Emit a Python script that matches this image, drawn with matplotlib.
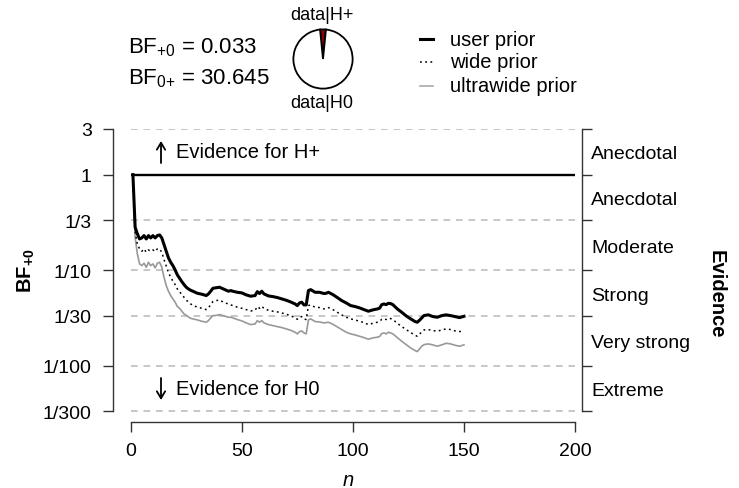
import numpy as np
import matplotlib
matplotlib.use('Agg')
import matplotlib.pyplot as plt
from matplotlib.lines import Line2D
from matplotlib import ticker

plt.rcParams['font.family'] = ['Liberation Sans', 'DejaVu Sans']
plt.rcParams['mathtext.fontset'] = 'custom'
plt.rcParams['mathtext.rm'] = 'Liberation Sans'
plt.rcParams['mathtext.it'] = 'Liberation Sans:italic'
plt.rcParams['mathtext.bf'] = 'Liberation Sans:bold'

# ---------------- data ----------------
n = [1, 2, 3, 4, 5, 6, 7, 8, 9, 10, 11, 12, 13, 14, 15, 16, 17, 18, 19, 20,
     21, 22, 23, 24, 25, 26, 27, 28, 30, 32, 34, 35, 36, 37, 38, 40, 42, 44,
     45, 46, 48, 50, 52, 54, 56, 57, 58, 59, 60, 62, 64, 66, 68, 70, 72, 74,
     75, 76, 77, 78, 79, 80, 81, 83, 85, 87, 88, 89, 91, 93, 95, 97,
     99, 101, 103, 105, 107, 109, 111, 112, 113, 114, 115, 116, 117, 118,
     120, 122, 124, 126, 128, 129, 130, 131, 132, 134, 136, 138, 140, 142,
     144, 146, 148, 150]

log10_bf_user = [0.0, -0.551, -0.620, -0.673, -0.662, -0.638, -0.673, -0.638, -0.662, -0.638,
                 -0.662, -0.638, -0.631, -0.662, -0.732, -0.802, -0.871, -0.917, -0.952, -0.997,
                 -1.049, -1.084, -1.119, -1.150, -1.178, -1.196, -1.210, -1.220, -1.241, -1.251,
                 -1.265, -1.248, -1.220, -1.189, -1.185, -1.178, -1.199, -1.220,
                 -1.213, -1.220, -1.231, -1.237, -1.258, -1.272, -1.265, -1.224, -1.244, -1.220,
                 -1.248, -1.269, -1.276, -1.286, -1.300, -1.314, -1.332, -1.353,
                 -1.370, -1.342, -1.335, -1.363, -1.363, -1.213, -1.203, -1.231, -1.231, -1.244,
                 -1.241, -1.231, -1.255, -1.286, -1.318, -1.342,
                 -1.370, -1.380, -1.394, -1.412, -1.429, -1.415, -1.405, -1.398, -1.360, -1.353,
                 -1.360, -1.346, -1.349, -1.360,
                 -1.405, -1.440, -1.478, -1.509, -1.537, -1.544, -1.523, -1.499, -1.474, -1.467,
                 -1.485, -1.492, -1.475, -1.467, -1.475, -1.485, -1.496, -1.482]

log10_bf_wide = [0.0, -0.603, -0.725, -0.777, -0.802, -0.777, -0.812, -0.788, -0.802, -0.788,
                 -0.805, -0.777, -0.777, -0.812, -0.889, -0.955, -1.025, -1.074, -1.115, -1.150,
                 -1.196, -1.224, -1.255, -1.283, -1.311, -1.335, -1.353, -1.367, -1.387, -1.398,
                 -1.412, -1.394, -1.360, -1.328, -1.321, -1.311, -1.339, -1.353,
                 -1.363, -1.370, -1.387, -1.398, -1.412, -1.426, -1.419, -1.380, -1.398, -1.377,
                 -1.401, -1.419, -1.429, -1.436, -1.447, -1.461, -1.475, -1.499,
                 -1.513, -1.492, -1.485, -1.509, -1.516, -1.370, -1.363, -1.387, -1.391, -1.405,
                 -1.401, -1.391, -1.412, -1.440, -1.468, -1.492,
                 -1.509, -1.520, -1.534, -1.548, -1.569, -1.555, -1.544, -1.537, -1.513, -1.509,
                 -1.516, -1.502, -1.506, -1.516,
                 -1.555, -1.590, -1.621, -1.652, -1.680, -1.691, -1.670, -1.645, -1.625, -1.621,
                 -1.632, -1.638, -1.625, -1.614, -1.621, -1.635, -1.642, -1.632]

log10_bf_ultrawide = [0.0, -0.655, -0.830, -0.934, -0.952, -0.927, -0.969, -0.917, -0.952, -0.934,
                      -0.976, -0.927, -0.917, -0.969, -1.074, -1.161, -1.220, -1.265, -1.300, -1.335,
                      -1.380, -1.398, -1.429, -1.457, -1.471, -1.489, -1.503, -1.509, -1.520, -1.534,
                      -1.544, -1.527, -1.499, -1.475, -1.475, -1.464, -1.478, -1.492,
                      -1.492, -1.499, -1.516, -1.530, -1.551, -1.569, -1.562, -1.527, -1.544, -1.527,
                      -1.551, -1.569, -1.579, -1.590, -1.600, -1.614, -1.628, -1.649,
                      -1.666, -1.642, -1.635, -1.656, -1.666, -1.520, -1.509, -1.537, -1.541, -1.551,
                      -1.548, -1.544, -1.565, -1.593, -1.621, -1.649,
                      -1.666, -1.677, -1.691, -1.705, -1.722, -1.708, -1.701, -1.694, -1.663, -1.656,
                      -1.666, -1.649, -1.656, -1.666,
                      -1.705, -1.743, -1.778, -1.813, -1.841, -1.851, -1.823, -1.795, -1.778, -1.771,
                      -1.781, -1.795, -1.781, -1.764, -1.771, -1.785, -1.795, -1.781]

bf_levels = [3, 1, 1/3, 1/10, 1/30, 1/100, 1/300]
level_labels = ['3', '1', '1/3', '1/10', '1/30', '1/100', '1/300']
evidence_labels = ['Anecdotal', 'Anecdotal', 'Moderate', 'Strong', 'Very strong', 'Extreme']
xticks = [0, 50, 100, 150, 200]
bf_plus0 = 0.033
bf_0plus = 30.645
legend_labels = ['user prior', 'wide prior', 'ultrawide prior']

# ---------------- figure ----------------
W, H = 739, 489
fig = plt.figure(figsize=(W / 100, H / 100), dpi=100)


def fx(x):
    return x / W


def fy(y):
    return 1 - y / H


AX_L, AX_R, AX_T, AX_B = 113.3, 581.7, 130.0, 423.0
ax = fig.add_axes([fx(AX_L), fy(AX_B), (AX_R - AX_L) / W, (AX_B - AX_T) / H])
ax.set_yscale('log')
ax.set_xlim(-7.83, 203.0)
ylims = (10 ** -2.5877, 3.0)
ax.set_ylim(*ylims)

spine_col = '#333333'
dash_col = '#bdbdbd'

# reference lines
others = [v for v in bf_levels if v != 1]
ax.hlines(others, 0, 200, colors=dash_col, linestyles=[(0, (4, 3.5))], lw=1.2, zorder=1)
ax.hlines([1], 0, 200, colors='black', lw=1.7, zorder=2)

nn = np.array(n)
ax.plot(nn, 10 ** np.array(log10_bf_ultrawide), color='#999999', lw=1.2, zorder=3)
ax.plot(nn, 10 ** np.array(log10_bf_wide), color='black', lw=1.1,
        ls=(0, (1.2, 2.2)), zorder=4)
ax.plot(nn, 10 ** np.array(log10_bf_user), color='black', lw=2.2,
        solid_joinstyle='round', zorder=5)

for s in ['top', 'right']:
    ax.spines[s].set_visible(False)
ax.spines['left'].set_bounds(1 / 300, 3)
ax.spines['bottom'].set_bounds(0, 200)
for s in ['left', 'bottom']:
    ax.spines[s].set_color(spine_col)
    ax.spines[s].set_linewidth(1.0)

ax.set_yticks(bf_levels)
ax.set_yticklabels(level_labels)
ax.yaxis.set_minor_locator(ticker.NullLocator())
ax.set_xticks(xticks)
ax.set_xticklabels([str(v) for v in xticks])
ax.tick_params(axis='y', length=7.5, width=1.0, color=spine_col, pad=8, labelsize=14)
ax.tick_params(axis='x', length=7.5, width=1.0, color=spine_col, pad=7, labelsize=14)

# right evidence axis
ax2 = ax.twinx()
ax2.set_yscale('log')
ax2.set_ylim(*ylims)
for s in ['top', 'left', 'bottom']:
    ax2.spines[s].set_visible(False)
ax2.spines['right'].set_bounds(1 / 300, 3)
ax2.spines['right'].set_color(spine_col)
ax2.spines['right'].set_linewidth(1.0)
ax2.set_yticks(bf_levels)
ax2.set_yticklabels([''] * len(bf_levels))
mids = [np.sqrt(bf_levels[i] * bf_levels[i + 1]) for i in range(len(bf_levels) - 1)]
ax2.set_yticks(mids, minor=True)
ax2.set_yticklabels(evidence_labels, minor=True)
ax2.tick_params(axis='y', which='major', length=7.5, width=1.0, color=spine_col)
ax2.tick_params(axis='y', which='minor', length=0, pad=7, labelsize=14)

# axis titles
fig.text(fx(716), fy(294), 'Evidence', rotation=270, fontsize=14.5, fontweight='bold',
         ha='center', va='center')
fig.text(fx(26), fy(271), r'$\mathbf{BF_{{+}0}}$', rotation=90, fontsize=14.5,
         ha='center', va='center')
fig.text(fx(348), fy(481), 'n', style='italic', fontsize=14.5, ha='center', va='center')

# evidence direction annotations
fig.text(fx(176), fy(153), 'Evidence for H+', fontsize=14.5, ha='left', va='center')
fig.text(fx(176), fy(390), 'Evidence for H0', fontsize=14.5, ha='left', va='center')
arrow_kw = dict(arrowstyle='->,head_length=0.5,head_width=0.3', lw=1.3, color='black',
                shrinkA=0, shrinkB=0, mutation_scale=10)
ax.annotate('', xy=(fx(161), fy(142)), xytext=(fx(161), fy(164)),
            xycoords='figure fraction', textcoords='figure fraction', arrowprops=arrow_kw)
ax.annotate('', xy=(fx(161), fy(401)), xytext=(fx(161), fy(379)),
            xycoords='figure fraction', textcoords='figure fraction', arrowprops=arrow_kw)

# BF texts
fig.text(fx(128), fy(53.3), f'BF$_{{{{+}}0}}$ = {bf_plus0:.3f}', fontsize=16, ha='left', va='baseline')
fig.text(fx(128), fy(84.0), f'BF$_{{0{{+}}}}$ = {bf_0plus:.3f}', fontsize=16, ha='left', va='baseline')

# pie
pax = fig.add_axes([fx(292.5), fy(90.5), 61 / W, 61 / H])
frac = bf_plus0 / (1 + bf_plus0)
ang = 360 * frac
pax.pie([bf_plus0, 1], colors=['#8b0000', 'white'], startangle=90 - ang / 2, counterclock=True,
        wedgeprops=dict(edgecolor='black', linewidth=1.3))
pax.set_xlim(-1.03, 1.03)
pax.set_ylim(-1.03, 1.03)
pax.set_aspect('equal')
pax.axis('off')
fig.text(fx(322), fy(15), 'data|H+', fontsize=13, ha='center', va='center')
fig.text(fx(322), fy(104), 'data|H0', fontsize=13, ha='center', va='center')

# legend (manual)
rows = [40, 63, 87]
styles = [dict(color='black', lw=2.2), dict(color='black', lw=1.1, ls=(0, (1.2, 2.2))),
          dict(color='#aaaaaa', lw=1.2)]
for y, lab, st in zip(rows, legend_labels, styles):
    fig.add_artist(Line2D([fx(420), fx(433)], [fy(y), fy(y)], transform=fig.transFigure, **st))
    fig.text(fx(450), fy(y), lab, fontsize=14.5, ha='left', va='center')

fig.savefig('out.png', dpi=100)
